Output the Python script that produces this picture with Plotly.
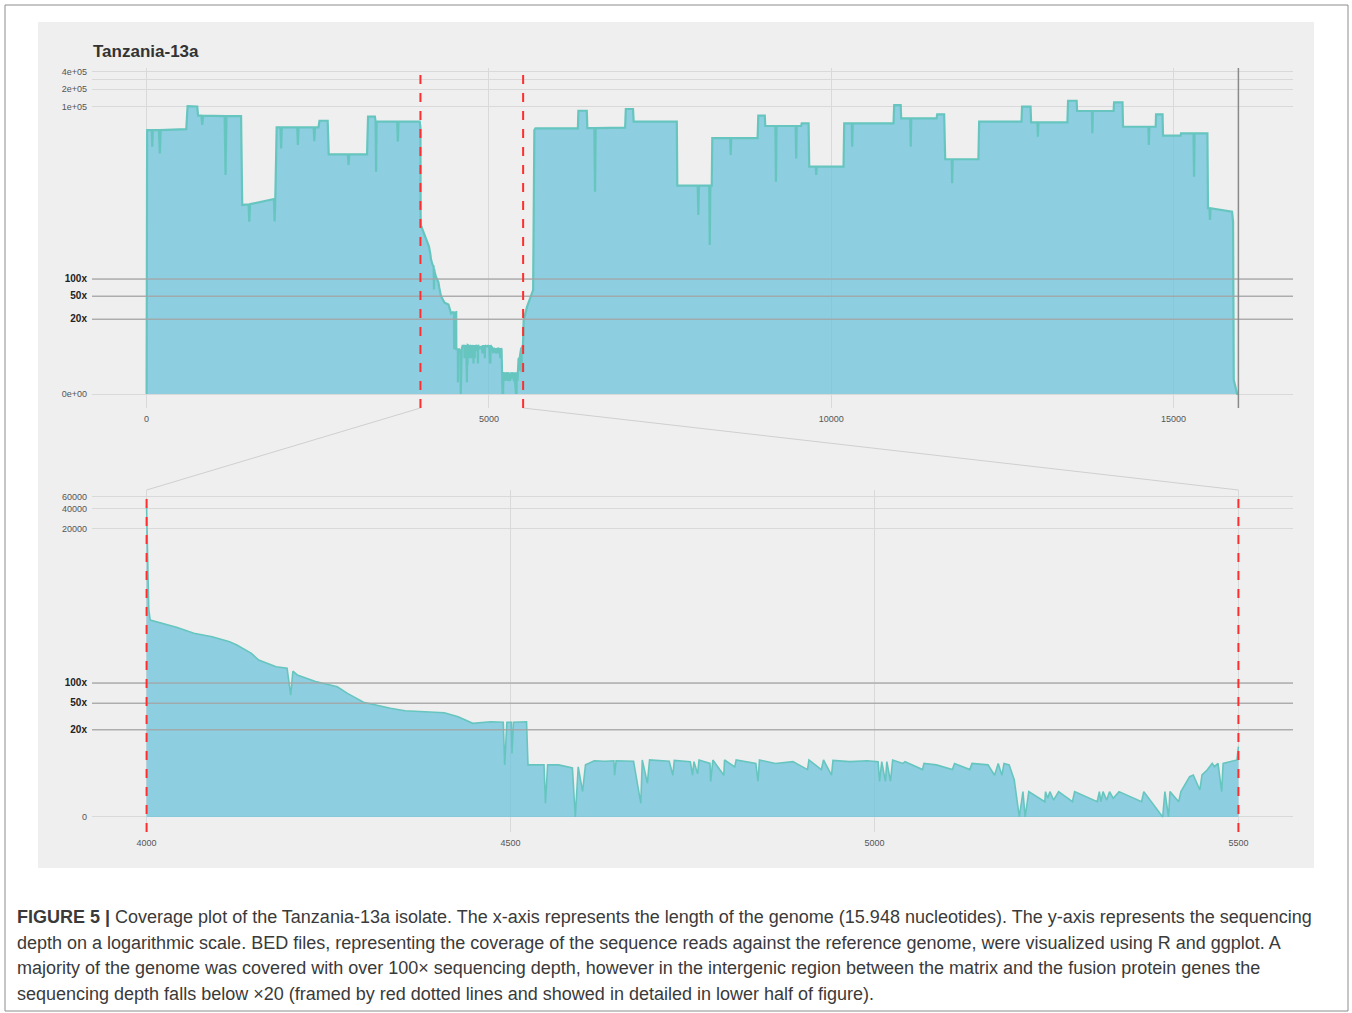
import plotly.graph_objects as go

# ---------------- DATA ----------------
GENOME_LENGTH = 15948
REGION_START, REGION_END = 4000, 5500
THRESHOLDS = [20, 50, 100]

# coverage depth per genome position; value 1 is drawn on the "0" line of the log axis
POS_LEFT = [0, 8, 75, 83, 91, 180, 193, 206, 580, 599, 740, 752, 800, 813, 826, 1140, 1153, 1166,
            1380, 1397, 1490, 1500, 1510, 1860, 1870, 1880, 1900, 1955, 1965, 1975, 2200, 2210, 2220,
            2440, 2450, 2460, 2511, 2525, 2645, 2660, 2940, 2950, 2960, 3220, 3235, 3335, 3345, 3352,
            3360, 3660, 3670, 3680, 3990]
COV_LEFT = [1, 39000, 39000, 20000, 39000, 39000, 15300, 39000, 40500, 102000, 100000, 69200, 69200,
            47700, 69200, 68000, 6440, 68000, 68000, 1940, 1980, 993, 2000, 2460, 1000, 2460, 43500,
            43500, 18700, 43500, 43500, 21400, 43500, 43500, 25000, 43500, 43500, 56600, 56600, 14700,
            14700, 9600, 14700, 14700, 66500, 66500, 54400, 7350, 54400, 54400, 24500, 54400, 54400]

POS_GAP = [4000, 4003, 4005, 4021, 4041, 4065, 4090, 4114, 4124, 4144, 4154, 4178, 4193, 4198, 4201,
           4207, 4232, 4262, 4276, 4298, 4335, 4355, 4409, 4428, 4448, 4473, 4490, 4492, 4495, 4501,
           4502, 4504, 4522, 4524, 4546, 4548, 4551, 4566, 4585, 4589, 4593, 4599, 4603, 4615, 4630,
           4642, 4643, 4645, 4669, 4679, 4681, 4688, 4691, 4718, 4723, 4725, 4747, 4750, 4752, 4757,
           4759, 4774, 4775, 4778, 4793, 4794, 4808, 4810, 4837, 4840, 4842, 4864, 4888, 4908, 4910,
           4927, 4930, 4941, 4943, 4966, 4990, 5005, 5007, 5010, 5015, 5017, 5022, 5025, 5039, 5042,
           5066, 5068, 5085, 5107, 5110, 5131, 5134, 5156, 5165, 5170, 5175, 5178, 5185, 5192, 5199,
           5204, 5207, 5212, 5234, 5235, 5238, 5241, 5246, 5253, 5272, 5275, 5306, 5309, 5311, 5314,
           5319, 5323, 5328, 5336, 5367, 5370, 5396, 5399, 5404, 5406, 5418, 5421, 5433, 5438, 5447,
           5450, 5457, 5464, 5467, 5472, 5477, 5479, 5498, 5500]
COV_GAP = [42800, 1230, 872, 778, 678, 552, 491, 413, 369, 277, 220, 175, 166, 66, 150,
           132, 105, 88, 70, 51.5, 41.9, 38.6, 36, 31.4, 25, 26.4, 26, 6, 26, 26,
           8.9, 26, 26.4, 6, 6, 1.6, 6, 6, 5.4, 1, 5.6, 2.4, 6, 6.9, 6.8,
           6.9, 4.2, 6.9, 6.8, 1.6, 7.1, 3.2, 7.1, 6.8, 4.2, 7.0, 6.7, 4.2, 6.7, 4.4,
           7.1, 6.3, 3.4, 7.1, 4.2, 7.1, 5.6, 7.1, 6.3, 3.4, 7.1, 6.3, 6.7, 5.1, 7.1,
           5.1, 7.1, 4.2, 7.0, 6.7, 6.9, 6.7, 3.4, 6.7, 3.4, 6.7, 3.4, 7.1, 6.3, 6.7,
           5.1, 6.3, 6.0, 5.1, 6.3, 5.1, 6.3, 6.0, 4.2, 6.3, 4.2, 6.3, 6.0, 3.6, 1.0,
           2.4, 1.0, 2.4, 1.69, 2.39, 1.9, 2.39, 1.79, 2.39, 1.69, 2.39, 1.69, 2.39, 1.69,
           2.39, 1.79, 2.39, 1.9, 2.39, 1.69, 2.39, 1.0, 2.39, 1.0, 2.39, 1.69, 2.39, 4.0, 4.24,
           2.53, 4.24, 5.03, 6.32, 5.63, 6.32, 2.39, 6.32, 7.1, 11.2]

POS_RIGHT = [5508, 5558, 5606, 5646, 5664, 5680, 6300, 6307, 6430, 6438, 6540, 6550, 6560, 6990, 7000,
             7105, 7115, 7745, 7752, 8050, 8059, 8068, 8218, 8226, 8235, 8255, 8263, 8525, 8532, 8540,
             8925, 8935, 9030, 9037, 9185, 9193, 9201, 9480, 9489, 9497, 9560, 9570, 9670, 9679, 9773,
             9781, 9789, 10180, 10190, 10300, 10307, 10315, 10910, 10920, 11015, 11022, 11155, 11162,
             11170, 11540, 11548, 11650, 11665, 11760, 11767, 11775, 12150, 12161, 12780, 12788, 12912,
             12920, 13012, 13019, 13027, 13450, 13460, 13585, 13592, 13808, 13815, 13822, 14125, 14132,
             14255, 14263, 14632, 14640, 14648, 14740, 14745, 14840, 14847, 15105, 15110, 15292, 15300,
             15308, 15495, 15504, 15525, 15533, 15541, 15855, 15870, 15880, 15930, 15948]
COV_RIGHT = [19.4, 33, 46.7, 64, 39000, 41800, 41800, 84500, 84500, 42000, 42000, 3300, 42000, 43000,
             90500, 90500, 54400, 54400, 4200, 4200, 1300, 4200, 4200, 390, 4200, 4200, 28300, 28300,
             14300, 28300, 28300, 69200, 69200, 45800, 45800, 4920, 45800, 45800, 12500, 45800, 45800,
             51000, 51000, 8980, 8980, 6440, 8980, 8980, 51000, 51000, 20000, 51000, 51000, 106000,
             106000, 62400, 62400, 20000, 62400, 62400, 73100, 73100, 12100, 12100, 4620, 12100, 12100,
             54400, 54400, 99300, 99300, 53100, 53100, 29800, 53100, 53100, 126000, 126000, 83500,
             83500, 34200, 83500, 83500, 118000, 118000, 44500, 44500, 21400, 44500, 44500, 73100,
             73100, 31100, 31100, 34200, 34200, 6010, 34200, 34200, 1700, 1700, 1060, 1700, 1480,
             1000, 1.75, 1, 1]

TOP_X_TICKS = [0, 5000, 10000, 15000]
TOP_X_TICKTEXT = ["0", "5000", "10000", "15000"]
TOP_Y_TICKVALS = [1, 20, 50, 100, 1e5, 2e5, 3e5, 4e5]
TOP_Y_TICKTEXT = ["0e+00", "20x", "50x", "100x", "1e+05", "2e+05", "", "4e+05"]
BOT_X_TICKS = [4000, 4500, 5000, 5500]
BOT_X_TICKTEXT = ["4000", "4500", "5000", "5500"]
BOT_Y_TICKVALS = [1, 20, 50, 100, 20000, 40000, 60000]
BOT_Y_TICKTEXT = ["0", "20x", "50x", "100x", "20000", "40000", "60000"]

TITLE = "Tanzania-13a"
CAPTION_LINES = [
    "<b>FIGURE 5 |</b> Coverage plot of the Tanzania-13a isolate. The x-axis represents the length of the genome (15.948 nucleotides). The y-axis represents the sequencing",
    "depth on a logarithmic scale. BED files, representing the coverage of the sequence reads against the reference genome, were visualized using R and ggplot. A",
    "majority of the genome was covered with over 100\u00d7 sequencing depth, however in the intergenic region between the matrix and the fusion protein genes the",
    "sequencing depth falls below \u00d720 (framed by red dotted lines and showed in detailed in lower half of figure).",
]

# ---------------- STYLE / LAYOUT ----------------
W, H = 1352, 1013
FONT = "Liberation Sans, Arial, Helvetica, sans-serif"
FILL = "rgba(100,193,218,0.7)"
LINE = "#66C6BF"
GRID = "#D9D9D9"
THR = "rgba(165,165,165,0.85)"
RED = "#FF2E2E"

def px(x):
    return x / W

def py(y):
    return 1 - y / H

XDOM = [px(92), px(1293)]
TOP_YDOM = [py(408), py(68)]
BOT_YDOM = [py(832), py(490)]
TOP_XR = [-0.05 * GENOME_LENGTH, 1.05 * GENOME_LENGTH]
BOT_XR = [REGION_START - 0.05 * (REGION_END - REGION_START), REGION_END + 0.05 * (REGION_END - REGION_START)]
TOP_YR = [-0.2435, 5.670]
BOT_YR = [-0.224, 4.881]

pos_all = POS_LEFT + POS_GAP + POS_RIGHT
cov_all = COV_LEFT + COV_GAP + COV_RIGHT


def fmt_ticks(texts):
    out = []
    for t in texts:
        if t.endswith("x"):
            out.append("<span style='font-size:10px;color:#222'><b>%s</b></span>" % t)
        else:
            out.append(t)
    return out


fig = go.Figure()
for (xs, ys, xa, ya, lw) in [(pos_all, cov_all, "x", "y", 2.2), (POS_GAP, COV_GAP, "x2", "y2", 1.6)]:
    fig.add_trace(go.Scatter(x=[xs[0], xs[-1]], y=[1, 1], mode="lines", line=dict(width=0),
                             xaxis=xa, yaxis=ya, hoverinfo="skip", showlegend=False))
    fig.add_trace(go.Scatter(x=xs, y=ys, mode="lines", fill="tonexty", fillcolor=FILL,
                             line=dict(color=LINE, width=lw), xaxis=xa, yaxis=ya, showlegend=False))

axis_common = dict(showgrid=True, gridcolor=GRID, gridwidth=1, zeroline=False, showline=False,
                   ticks="", tickfont=dict(family=FONT, size=9, color="#555"), ticklabelstandoff=4)

fig.update_layout(
    width=W, height=H, margin=dict(l=0, r=0, t=0, b=0),
    paper_bgcolor="white", plot_bgcolor="rgba(0,0,0,0)", showlegend=False,
    xaxis=dict(domain=XDOM, range=TOP_XR, tickvals=TOP_X_TICKS, ticktext=TOP_X_TICKTEXT,
               anchor="y", **axis_common),
    yaxis=dict(domain=TOP_YDOM, type="log", range=TOP_YR, tickvals=TOP_Y_TICKVALS,
               ticktext=fmt_ticks(TOP_Y_TICKTEXT), anchor="x", **axis_common),
    xaxis2=dict(domain=XDOM, range=BOT_XR, tickvals=BOT_X_TICKS, ticktext=BOT_X_TICKTEXT,
                anchor="y2", **axis_common),
    yaxis2=dict(domain=BOT_YDOM, type="log", range=BOT_YR, tickvals=BOT_Y_TICKVALS,
                ticktext=fmt_ticks(BOT_Y_TICKTEXT), anchor="x2", **axis_common),
)

shapes = []
# outer frame and grey figure background
shapes.append(dict(type="rect", xref="paper", yref="paper", x0=px(5), x1=px(1348), y0=py(1011), y1=py(5),
                   line=dict(color="#8c8c8c", width=1), fillcolor="rgba(0,0,0,0)", layer="below"))
shapes.append(dict(type="rect", xref="paper", yref="paper", x0=px(38), x1=px(1314), y0=py(868), y1=py(22),
                   line=dict(width=0), fillcolor="#EFEFEF", layer="below"))
# threshold lines (drawn over the fill)
for xa, ya in [("x", "y"), ("x2", "y2")]:
    for t in THRESHOLDS:
        shapes.append(dict(type="line", xref=xa + " domain", yref=ya, x0=0, x1=1, y0=t, y1=t,
                           line=dict(color=THR, width=1.5), layer="above"))
# genome end
shapes.append(dict(type="line", xref="x", yref="y domain", x0=GENOME_LENGTH, x1=GENOME_LENGTH, y0=0, y1=1,
                   line=dict(color="#8a8a8a", width=1.5), layer="above"))
# red dashed frame of the low-coverage region
for xa, ya in [("x", "y"), ("x2", "y2")]:
    for v in (REGION_START, REGION_END):
        shapes.append(dict(type="line", xref=xa, yref=ya + " domain", x0=v, x1=v, y0=0, y1=1,
                           line=dict(color=RED, width=2, dash="dash"), layer="above"))


def xpaper(v, rng):
    return XDOM[0] + (v - rng[0]) / (rng[1] - rng[0]) * (XDOM[1] - XDOM[0])


for v in (REGION_START, REGION_END):
    shapes.append(dict(type="line", xref="paper", yref="paper",
                       x0=xpaper(v, TOP_XR), y0=TOP_YDOM[0], x1=xpaper(v, BOT_XR), y1=BOT_YDOM[1],
                       line=dict(color="#CFCFCF", width=1), layer="below"))

fig.update_layout(shapes=shapes)

annotations = [dict(text="<b>%s</b>" % TITLE, x=px(91), y=py(51), xref="paper", yref="paper",
                    xanchor="left", yanchor="middle", showarrow=False,
                    font=dict(family=FONT, size=17, color="#333"))]
for i, line in enumerate(CAPTION_LINES):
    annotations.append(dict(text=line, x=px(15), y=py(917 + i * 25.7), xref="paper", yref="paper",
                            xanchor="left", yanchor="middle", showarrow=False, align="left",
                            font=dict(family=FONT, size=18, color="#3a3a3a")))
fig.update_layout(annotations=annotations)

fig.write_html("out.html", config={"displayModeBar": False},
               post_script="document.body.style.margin='0px';document.body.style.overflow='hidden';")
